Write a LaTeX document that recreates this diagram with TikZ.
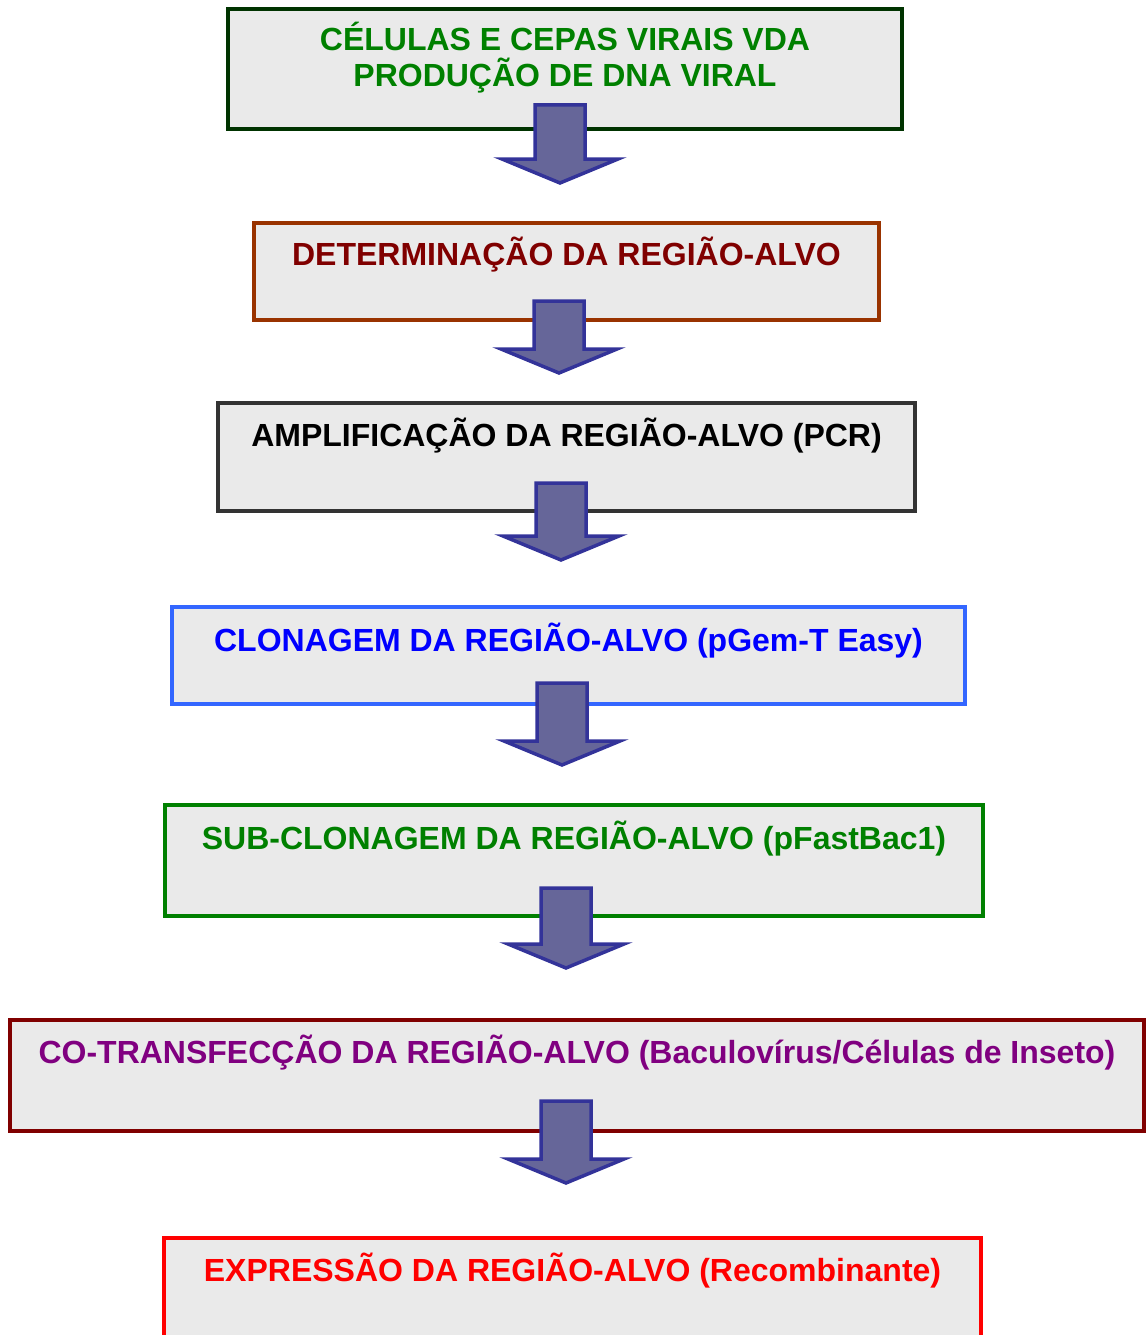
\documentclass[tikz,border=0pt]{standalone}
\usepackage{fontspec}
\setmainfont{Liberation Sans}
\usetikzlibrary{calc}

\definecolor{boxgray}{HTML}{EAEAEA}
\definecolor{arrowfill}{HTML}{666699}
\definecolor{arrowedge}{HTML}{333399}
\definecolor{darkgreen}{HTML}{003300}
\definecolor{midgreen}{HTML}{008000}
\definecolor{rust}{HTML}{993300}
\definecolor{maroon}{HTML}{800000}
\definecolor{charcoal}{HTML}{333333}
\definecolor{skyblue}{HTML}{3366FF}
\definecolor{plum}{HTML}{800080}

\tikzset{
	stepbox/.style={draw=#1, line width=4pt, fill=boxgray, inner sep=0pt},
	steptext/.style={text=#1, font=\bfseries\fontsize{32}{36}\selectfont, align=center, anchor=base, inner sep=0pt},
	blockarrow/.style={draw=arrowedge, fill=arrowfill, line width=3.5pt, line join=miter}
}

% block arrow: #1 top of shaft, #2 tip
\newcommand{\flowarrow}[2]{
	\draw[blockarrow] ($(#1)+(-25,0)$) -- ($(#2)+(-25,-24)$) -- ($(#2)+(-58,-24)$) -- (#2)
		-- ($(#2)+(58,-24)$) -- ($(#2)+(25,-24)$) -- ($(#1)+(25,0)$) -- cycle;
}

\begin{document}
\begin{tikzpicture}[x=1pt, y=-1pt]
	\useasboundingbox (0,0) rectangle (1146,1335);

	% steps
	\node[stepbox=darkgreen, minimum width=674pt, minimum height=120pt] (b1) at (565,69) {};
	\node[stepbox=rust, minimum width=625pt, minimum height=97pt] (b2) at (566.5,271.5) {};
	\node[stepbox=charcoal, minimum width=697pt, minimum height=108pt] (b3) at (566.5,457) {};
	\node[stepbox=skyblue, minimum width=793pt, minimum height=97pt] (b4) at (568.5,655.5) {};
	\node[stepbox=midgreen, minimum width=818pt, minimum height=111pt] (b5) at (574,860.5) {};
	\node[stepbox=maroon, minimum width=1134pt, minimum height=111pt] (b6) at (577,1075.5) {};
	\node[stepbox=red, minimum width=817pt, minimum height=122pt] (b7) at (572.5,1299) {};

	\node[steptext=midgreen] (t1) at ($(b1.north)+(0,80)$) {CÉLULAS E CEPAS VIRAIS VDA\\PRODUÇÃO DE DNA VIRAL};
	\node[steptext=maroon] (t2) at ($(b2.north)+(0,44)$) {DETERMINAÇÃO DA REGIÃO-ALVO};
	\node[steptext=black] (t3) at ($(b3.north)+(0,45)$) {AMPLIFICAÇÃO DA REGIÃO-ALVO (PCR)};
	\node[steptext=blue] (t4) at ($(b4.north)+(0,46)$) {CLONAGEM DA REGIÃO-ALVO (pGem-T Easy)};
	\node[steptext=midgreen] (t5) at ($(b5.north)+(0,46)$) {SUB-CLONAGEM DA REGIÃO-ALVO (pFastBac1)};
	\node[steptext=plum] (t6) at ($(b6.north)+(0,45)$) {CO-TRANSFECÇÃO DA REGIÃO-ALVO (Baculovírus/Células de Inseto)};
	\node[steptext=red] (t7) at ($(b7.north)+(0,45)$) {EXPRESSÃO DA REGIÃO-ALVO (Recombinante)};

	% arrows between steps
	\coordinate (a1) at ($(b1.south)+(-5,-26)$);
	\coordinate (p1) at ($(a1 |- b2.north)+(0,-38)$);
	\coordinate (a2) at ($(b2.south)+(-7.5,-21)$);
	\coordinate (p2) at ($(a2 |- b3.north)+(0,-28)$);
	\coordinate (a3) at ($(b3.south)+(-5.5,-30)$);
	\coordinate (p3) at ($(a3 |- b4.north)+(0,-45)$);
	\coordinate (a4) at ($(b4.south)+(-6.5,-23)$);
	\coordinate (p4) at ($(a4 |- b5.north)+(0,-38)$);
	\coordinate (a5) at ($(b5.south)+(-8,-30)$);
	\coordinate (p5) at ($(a5 |- b6.north)+(0,-50)$);
	\coordinate (a6) at ($(b6.south)+(-11,-32)$);
	\coordinate (p6) at ($(a6 |- b7.north)+(0,-53)$);
	\flowarrow{a1}{p1}
	\flowarrow{a2}{p2}
	\flowarrow{a3}{p3}
	\flowarrow{a4}{p4}
	\flowarrow{a5}{p5}
	\flowarrow{a6}{p6}
\end{tikzpicture}
\end{document}
